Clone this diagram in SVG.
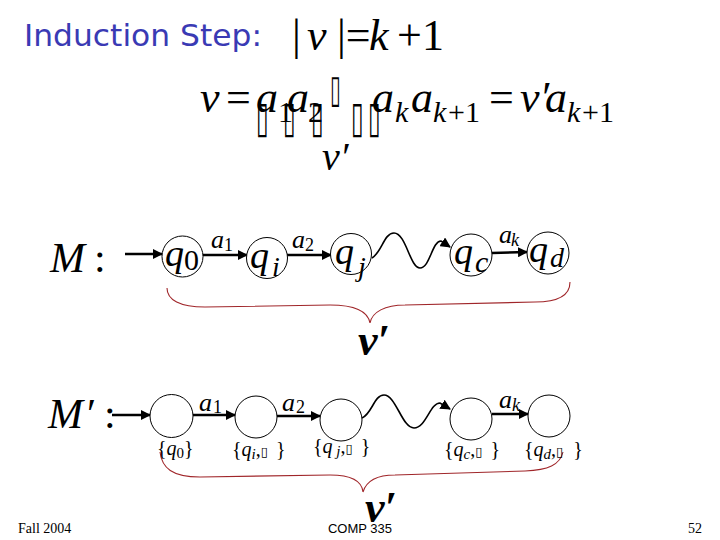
<svg xmlns="http://www.w3.org/2000/svg" width="720" height="540" viewBox="0 0 720 540">
<defs>
<style>
.m{font-family:"Liberation Serif","Times New Roman",serif;font-style:italic;fill:#000}
.u{font-family:"Liberation Serif","Times New Roman",serif;font-style:normal;fill:#000}
.tofu{font-family:"DejaVu Sans",sans-serif;fill:#000}
.st{fill:#fff;stroke:#000;stroke-width:1}
.ed{fill:none;stroke:#000;stroke-width:2.5}
.wv{fill:none;stroke:#000;stroke-width:1.6}
.br{fill:none;stroke:#a0262a;stroke-width:1.1}
.ft{font-family:"Liberation Serif","Times New Roman",serif;font-size:14px;fill:#000}
</style>
<marker id="ah" viewBox="0 0 10 10" refX="9" refY="5" markerWidth="4" markerHeight="4" orient="auto" markerUnits="strokeWidth">
<path d="M0,0 L10,5 L0,10 z" fill="#000"/>
</marker>
<marker id="ahw" viewBox="0 0 10 10" refX="9" refY="5" markerWidth="6.5" markerHeight="6.5" orient="auto" markerUnits="strokeWidth">
<path d="M0,0 L10,5 L0,10 z" fill="#000"/>
</marker>
</defs>
<rect width="720" height="540" fill="#fff"/>

<g id="title">
<text x="24" y="46" font-family="DejaVu Sans, sans-serif" font-size="31" fill="#3a3ab4" textLength="238" lengthAdjust="spacingAndGlyphs">Induction Step:</text>
</g>

<g id="eq1" font-size="44">
<text class="u" x="292" y="50">|</text>
<text class="m" x="307" y="50">v</text>
<text class="u" x="337" y="50">|=</text>
<text class="m" x="369" y="50">k</text>
<text class="u" x="397" y="50">+</text>
<text class="u" x="422" y="50">1</text>
</g>

<g id="eq2" font-size="44">
<text class="m" x="200" y="112">v</text>
<text class="u" x="226" y="112">=</text>
<text class="m" x="256" y="112">a</text>
<text class="u" x="278" y="122" font-size="30">1</text>
<text class="m" x="287" y="112">a</text>
<text class="u" x="308" y="122" font-size="30">2</text>
<text class="m" x="372" y="112">a</text>
<text class="m" x="395" y="122" font-size="30">k</text>
<text class="m" x="411" y="112">a</text>
<text class="m" x="433" y="122" font-size="30">k</text>
<text class="u" x="448" y="122" font-size="30">+1</text>
<text class="u" x="489" y="112">=</text>
<text class="m" x="520" y="112">v′</text>
<text class="m" x="545" y="112">a</text>
<text class="m" x="567" y="122" font-size="30">k</text>
<text class="u" x="582" y="122" font-size="30">+1</text>
<g class="tofu" font-size="24">
<text transform="translate(256,132) scale(0.95,1.8)">▯</text>
<text transform="translate(283,132) scale(0.95,1.8)">▯</text>
<text transform="translate(311,132) scale(0.95,1.8)">▯</text>
<text transform="translate(330,102) scale(0.8,1.6)">▯</text>
<text transform="translate(351,132) scale(0.95,1.8)">▯</text>
<text transform="translate(368,132) scale(0.95,1.8)">▯</text>
</g>
<text class="m" x="322" y="170" font-size="40">v′</text>
</g>

<g id="labelM">
<text class="m" x="50" y="272" font-size="42">M</text>
<text class="u" x="94" y="272" font-size="42">:</text>
</g>
<g id="labelMp">
<text class="m" x="48" y="428" font-size="42">M</text>
<text class="u" x="87" y="428" font-size="42">′</text>
<text class="u" x="104" y="428" font-size="42">:</text>
</g>

<g id="connectors">
<line class="ed" x1="125" y1="254" x2="162" y2="254" marker-end="url(#ah)"/>
<line class="ed" x1="203" y1="255" x2="247" y2="255" marker-end="url(#ah)"/>
<line class="ed" x1="287" y1="255" x2="331" y2="255" marker-end="url(#ah)"/>
<path class="wv" d="M372,258 C382,252 384,233 394,233 C406,233 410,268 420,268 C430,268 432,241 441,241 L450,247" marker-end="url(#ahw)"/>
<line class="ed" x1="492" y1="253" x2="527" y2="252" marker-end="url(#ah)"/>
<line class="ed" x1="112" y1="415" x2="150" y2="415" marker-end="url(#ah)"/>
<line class="ed" x1="193" y1="415" x2="235" y2="415" marker-end="url(#ah)"/>
<line class="ed" x1="277" y1="416" x2="320" y2="416" marker-end="url(#ah)"/>
<path class="wv" d="M362,418 C372,414 374,395 384,395 C396,395 402,428 414,428 C426,428 430,403 440,403 L450,409" marker-end="url(#ahw)"/>
<line class="ed" x1="492" y1="414" x2="528" y2="414" marker-end="url(#ah)"/>
<path class="br" d="M167,288 C167,300 180,307 205,307 L330,305 C355,305 368,312 370,323 C372,312 385,305 405,305 L535,302 C558,302 570,295 570,282"/>
<path class="br" d="M160,452 C162,468 172,477 200,477 L330,475 C352,475 362,482 363,492 C366,482 374,475 395,475 L525,471 C548,470 560,465 563,452"/>
</g>

<g id="edgeLabels" font-size="26">
<text class="m" x="211" y="248">a</text><text class="u" x="224" y="251" font-size="18">1</text>
<text class="m" x="292" y="248">a</text><text class="u" x="305" y="251" font-size="18">2</text>
<text class="m" x="499" y="243">a</text><text class="m" x="511" y="246" font-size="18">k</text>
<text class="m" x="199" y="411">a</text><text class="u" x="213" y="413" font-size="18">1</text>
<text class="m" x="282" y="411">a</text><text class="u" x="296" y="413" font-size="18">2</text>
<text class="m" x="499" y="408">a</text><text class="m" x="512" y="411" font-size="18">k</text>
</g>

<g id="q0"><circle class="st" cx="182.5" cy="256.5" r="20.5"/><text class="m" x="165" y="266" font-size="38">q</text><text class="u" x="184" y="270" font-size="30">0</text></g>
<g id="qi"><circle class="st" cx="267" cy="258" r="20.5"/><text class="m" x="250" y="268" font-size="38">q</text><text class="m" x="272" y="276" font-size="28">i</text></g>
<g id="qj"><circle class="st" cx="351" cy="254" r="20.5"/><text class="m" x="335" y="264" font-size="38">q</text><text class="m" x="358" y="276" font-size="28">j</text></g>
<g id="qc"><circle class="st" cx="471" cy="255" r="21"/><text class="m" x="454" y="264" font-size="38">q</text><text class="m" x="475" y="272" font-size="30">c</text></g>
<g id="qd"><circle class="st" cx="548" cy="253" r="21"/><text class="m" x="529" y="262" font-size="38">q</text><text class="m" x="550" y="267" font-size="28">d</text></g>

<g id="v1"><text class="m" x="358" y="355" font-size="44" font-weight="bold">v′</text></g>

<g id="s0"><circle class="st" cx="171.5" cy="416" r="21.5"/><text x="157" y="455" font-size="20"><tspan class="u">{</tspan><tspan class="m">q</tspan><tspan class="u" font-size="15" dy="3">0</tspan><tspan class="u" dy="-3">}</tspan></text></g>
<g id="s1"><circle class="st" cx="256" cy="417" r="21"/><text x="232" y="456" font-size="20"><tspan class="u">{</tspan><tspan class="m">q</tspan><tspan class="m" font-size="15" dy="3">i</tspan><tspan class="u" dy="-3">,</tspan><tspan class="tofu" font-size="13">▯</tspan><tspan class="u" dx="8">}</tspan></text></g>
<g id="s2"><circle class="st" cx="341" cy="420" r="21"/><text x="313" y="453" font-size="20"><tspan class="u">{</tspan><tspan class="m">q</tspan><tspan class="m" font-size="15" dy="3"> j</tspan><tspan class="u" dy="-3">,</tspan><tspan class="tofu" font-size="13">▯</tspan><tspan class="u" dx="8">}</tspan></text></g>
<g id="s3"><circle class="st" cx="471" cy="419" r="21"/><text x="444" y="456" font-size="20"><tspan class="u">{</tspan><tspan class="m">q</tspan><tspan class="m" font-size="15" dy="3">c</tspan><tspan class="u" dy="-3">,</tspan><tspan class="tofu" font-size="13">▯</tspan><tspan class="u" dx="8">}</tspan></text></g>
<g id="s4"><circle class="st" cx="549" cy="416" r="21"/><text x="524" y="456" font-size="20"><tspan class="u">{</tspan><tspan class="m">q</tspan><tspan class="m" font-size="15" dy="3">d</tspan><tspan class="u" dy="-3">,</tspan><tspan class="tofu" font-size="13">▯</tspan><tspan class="u" dx="10">}</tspan></text></g>

<g id="v2"><text class="m" x="365" y="522" font-size="44" font-weight="bold">v′</text></g>

<g id="footer">
<text class="ft" x="18" y="533">Fall 2004</text>
<text x="360" y="533" font-family="Liberation Sans, Arial, sans-serif" font-size="13" text-anchor="middle">COMP 335</text>
<text class="ft" x="702" y="533" text-anchor="end">52</text>
</g>
</svg>
